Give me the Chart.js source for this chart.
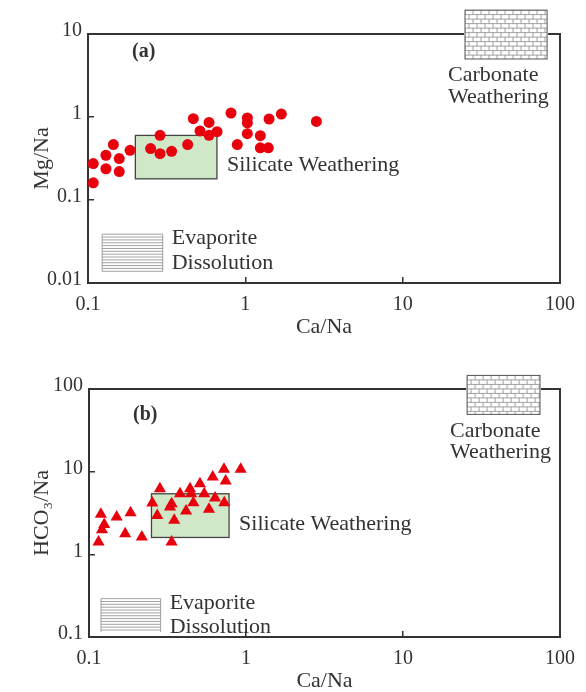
<!DOCTYPE html>
<html><head><meta charset="utf-8">
<script src="https://cdn.jsdelivr.net/npm/chart.js@4/dist/chart.umd.min.js"></script>
<style>
html,body{margin:0;padding:0;background:#fff;}
#w{position:relative;width:586px;height:692px;background:#fff;}
.c{position:absolute;left:0;width:586px;height:346px;}
</style></head><body>
<div id="w">
<div class="c" style="top:0"><canvas id="ca" width="586" height="346"></canvas></div>
<div class="c" style="top:346px"><canvas id="cb" width="586" height="346"></canvas></div>
</div>
<script>
// ---- data ----
const xTicks = [0.1, 1, 10, 100];
const yTicksA = [0.01, 0.1, 1, 10];
const yTicksB = [0.1, 1, 10, 100];

const caNaA = [0.108,0.108,0.130,0.130,0.145,0.158,0.158,0.185,0.250,0.287,0.287,0.340,0.430,0.467,0.515,0.588,0.588,0.661,0.811,0.889,1.03,1.03,1.03,1.245,1.245,1.40,1.415,1.694,2.83];
const mgNaA = [0.275,0.161,0.346,0.238,0.465,0.316,0.220,0.397,0.416,0.601,0.362,0.386,0.465,0.954,0.679,0.861,0.601,0.666,1.117,0.465,0.973,0.847,0.630,0.596,0.425,0.425,0.946,1.086,0.885];

const caNaB = [0.119,0.150,0.184,0.125,0.121,0.115,0.170,0.217,0.283,0.253,0.272,0.336,0.336,0.328,0.349,0.380,0.415,0.440,0.447,0.462,0.509,0.542,0.581,0.635,0.614,0.727,0.742,0.724,0.925];
const hco3NaB = [3.05,2.83,3.19,2.29,1.99,1.41,1.78,1.62,6.23,4.17,2.94,1.41,4.10,3.73,2.58,5.42,3.34,6.23,5.42,4.22,7.16,5.42,3.50,4.80,8.60,4.22,7.70,10.7,10.7];

// end-member fields [xmin, xmax, ymin, ymax]
const silicateA = [0.2, 0.66, 0.18, 0.6];
const carbonateA = [24.9, 82.8, 5.0, 19.4];
const evaporiteA = [0.123, 0.2985, 0.0138, 0.0387];
const silicateB = [0.25, 0.78, 1.6, 5.4];
const carbonateB = [25.6, 74.6, 49.3, 146];
const evaporiteB = [0.1192, 0.286, 0.115, 0.291];

const fieldLabels = {
  silicate: ['Silicate Weathering'],
  carbonate: ['Carbonate', 'Weathering'],
  evaporite: ['Evaporite', 'Dissolution']
};

// ---- drawing helpers ----
const INK = '#333';
const SERIF = '"Liberation Serif", "Times New Roman", serif';

function rectPx(chart, b) {
  const xs = chart.scales.x, ys = chart.scales.y;
  const x1 = xs.getPixelForValue(b[0]), x2 = xs.getPixelForValue(b[1]);
  const y1 = ys.getPixelForValue(b[3]), y2 = ys.getPixelForValue(b[2]);
  return {x: x1, y: y1, w: x2 - x1, h: y2 - y1};
}

function fieldsPlugin(id, silicate, carbonate, evaporite, tag) {
  return {
    id: id,
    beforeDatasetsDraw(chart) {
      const ctx = chart.ctx, a = chart.chartArea;
      ctx.save();
      // frame
      ctx.strokeStyle = INK; ctx.lineWidth = 2;
      ctx.strokeRect(a.left, a.top, a.right - a.left, a.bottom - a.top);

      // silicate box
      let r = rectPx(chart, silicate);
      ctx.fillStyle = '#d0e8c8';
      ctx.fillRect(r.x, r.y, r.w, r.h);
      ctx.strokeStyle = '#444'; ctx.lineWidth = 1.3;
      ctx.strokeRect(r.x, r.y, r.w, r.h);
      ctx.font = '22px ' + SERIF; ctx.fillStyle = INK; ctx.textBaseline = 'alphabetic'; ctx.textAlign = 'left';
      ctx.fillText(fieldLabels.silicate[0], r.x + r.w + 10, r.y + r.h / 2 + 14);

      // carbonate box (brick pattern)
      r = rectPx(chart, carbonate);
      ctx.fillStyle = '#fff';
      ctx.fillRect(r.x - 1, r.y, r.w + 2, r.h);
      ctx.save();
      ctx.beginPath(); ctx.rect(r.x, r.y, r.w, r.h); ctx.clip();
      ctx.strokeStyle = '#8a8a8a'; ctx.lineWidth = 0.8;
      const rh = 4.5, bw = 8;
      let row = 0;
      for (let yy = r.y; yy < r.y + r.h + 0.1; yy += rh, row++) {
        ctx.beginPath(); ctx.moveTo(r.x, yy); ctx.lineTo(r.x + r.w, yy); ctx.stroke();
        const off = (row % 2) ? bw / 2 : 0;
        for (let xx = r.x + off; xx < r.x + r.w; xx += bw) {
          ctx.beginPath(); ctx.moveTo(xx, yy); ctx.lineTo(xx, yy + rh); ctx.stroke();
        }
      }
      ctx.restore();
      ctx.strokeStyle = '#555'; ctx.lineWidth = 1;
      ctx.strokeRect(r.x, r.y, r.w, r.h);
      ctx.fillStyle = INK;
      ctx.fillText(fieldLabels.carbonate[0], r.x - 17, r.y + r.h + 22.5);
      ctx.fillText(fieldLabels.carbonate[1], r.x - 17, r.y + r.h + 44);

      // evaporite box (horizontal lines)
      r = rectPx(chart, evaporite);
      ctx.strokeStyle = '#8a8a8a'; ctx.lineWidth = 0.8;
      for (let yy = r.y; yy <= r.y + r.h + 0.1; yy += 2.85) {
        ctx.beginPath(); ctx.moveTo(r.x, yy); ctx.lineTo(r.x + r.w, yy); ctx.stroke();
      }
      ctx.beginPath(); ctx.moveTo(r.x, r.y); ctx.lineTo(r.x, r.y + r.h);
      ctx.moveTo(r.x + r.w, r.y); ctx.lineTo(r.x + r.w, r.y + r.h); ctx.stroke();
      ctx.fillStyle = INK;
      ctx.fillText(fieldLabels.evaporite[0], r.x + r.w + 9, r.y + 10);
      ctx.fillText(fieldLabels.evaporite[1], r.x + r.w + 9, r.y + 34.5);

      // panel tag
      ctx.font = 'bold 20px ' + SERIF;
      ctx.textBaseline = 'middle';
      ctx.fillText(tag.text, a.left + tag.dx, a.top + tag.dy);
      ctx.restore();
    }
  };
}

function makeChart(canvasId, xs, ys, pointStyle, radius, yTicks, yMin, yMax, yTitle, layout, plugin) {
  return new Chart(document.getElementById(canvasId), {
    type: 'scatter',
    data: {
      datasets: [{
        data: xs.map((v, i) => ({x: v, y: ys[i]})),
        pointStyle: pointStyle,
        pointRadius: radius,
        pointHoverRadius: radius,
        backgroundColor: '#e8000d',
        borderColor: '#e8000d',
        borderWidth: 0
      }]
    },
    options: {
      responsive: false,
      animation: false,
      events: [],
      layout: {padding: {left: 0, right: 26, top: layout.top, bottom: 0}},
      plugins: {legend: {display: false}, tooltip: {enabled: false}},
      scales: {
        x: {
          type: 'logarithmic', min: 0.1, max: 100,
          afterBuildTicks: s => { s.ticks = xTicks.map(v => ({value: v})); },
          afterFit: s => { s.height = layout.xH; s.paddingLeft = 0; s.paddingRight = 0; },
          grid: {display: true, drawOnChartArea: false, drawTicks: true, tickLength: -6, color: INK, lineWidth: 1.5},
          border: {display: false},
          ticks: {autoSkip: false, maxRotation: 0, padding: 16, color: INK,
                  font: {family: SERIF, size: 20}, callback: v => String(v)},
          title: {display: true, text: 'Ca/Na', color: INK,
                  font: {family: SERIF, size: 22, lineHeight: 1}, padding: {top: 0, bottom: layout.xTitlePad}}
        },
        y: {
          type: 'logarithmic', min: yMin, max: yMax,
          afterBuildTicks: s => { s.ticks = yTicks.map(v => ({value: v})); },
          afterFit: s => { s.width = layout.yW; s.paddingTop = 0; s.paddingBottom = 0; },
          grid: {display: true, drawOnChartArea: false, drawTicks: true, tickLength: -6, color: INK, lineWidth: 1.5},
          border: {display: false},
          ticks: {autoSkip: false, padding: 12, labelOffset: -3, color: INK,
                  font: {family: SERIF, size: 20}, callback: v => String(v)},
          title: {display: true, text: yTitle, color: INK,
                  font: {family: SERIF, size: 22, lineHeight: 1}, padding: {top: 31, bottom: 0}}
        }
      }
    },
    plugins: [plugin]
  });
}

makeChart('ca', caNaA, mgNaA, 'circle', 5.5, yTicksA, 0.01, 10, 'Mg/Na',
  {top: 34, xH: 63, yW: 88, xTitlePad: 8},
  fieldsPlugin('fa', silicateA, carbonateA, evaporiteA, {text: '(a)', dx: 44, dy: 18}));

makeChart('cb', caNaB, hco3NaB, 'triangle', 7, yTicksB, 0.1, 100, 'HCO\u2083/Na',
  {top: 43, xH: 55, yW: 89, xTitlePad: 0},
  fieldsPlugin('fb', silicateB, carbonateB, evaporiteB, {text: '(b)', dx: 44, dy: 26}));
</script>
</body></html>
